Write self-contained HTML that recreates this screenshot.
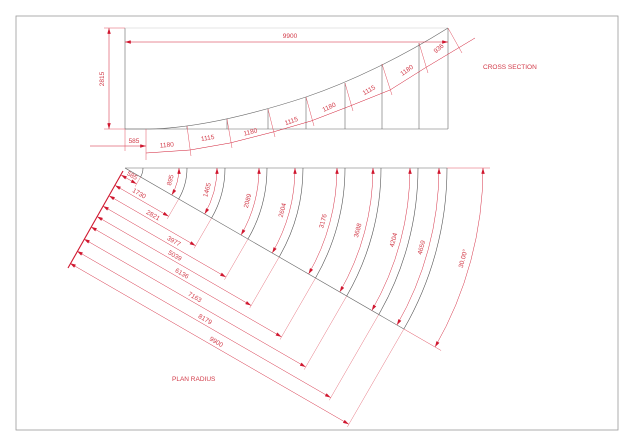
<!DOCTYPE html>
<html><head><meta charset="utf-8"><style>
html,body{margin:0;padding:0;background:#fff;}
svg{display:block;}
text{font-family:"Liberation Sans",sans-serif;font-size:6.5px;fill:#d23a48;}
</style></head><body>
<svg id="s" width="630" height="445" viewBox="0 0 630 445" xmlns="http://www.w3.org/2000/svg">
<defs>
<marker id="a" viewBox="0 0 10 6" refX="10" refY="3" markerWidth="7" markerHeight="3.5" orient="auto-start-reverse" markerUnits="userSpaceOnUse"><path d="M0,0 L10,3 L0,6z" fill="#d01830"/></marker>
</defs>
<rect x="16" y="16" width="602" height="414" fill="none" stroke="#999" stroke-width="0.8"/>
<!-- cross section frame -->
<g stroke="#666" stroke-width="0.6" fill="none">
<line x1="125" y1="28" x2="125" y2="129"/>
<line x1="125" y1="129" x2="448" y2="129"/>
<line x1="448" y1="28" x2="448" y2="129"/>
<line x1="125" y1="28" x2="448" y2="28" stroke="#ccc"/>
<path d="M125,129 L150,129 C200,128 260,112 306,97 C350,82 400,58 448,28"/>
<line x1="187" y1="126" x2="187" y2="129"/>
<line x1="227" y1="119" x2="227" y2="129"/>
<line x1="268" y1="109" x2="268" y2="129"/>
<line x1="306" y1="97" x2="306" y2="129"/>
<line x1="345" y1="83" x2="345" y2="129"/>
<line x1="382" y1="64" x2="382" y2="129"/>
<line x1="419" y1="43" x2="419" y2="129"/>
</g>
<g stroke="#e05060" stroke-width="0.5" fill="none">
<line x1="125" y1="42" x2="448" y2="42" marker-start="url(#a)" marker-end="url(#a)" stroke="#d01830"/>
<line x1="109" y1="28" x2="109" y2="129" marker-start="url(#a)" marker-end="url(#a)" stroke="#d01830"/>
<line x1="104" y1="28" x2="125" y2="28"/><line x1="104" y1="129" x2="125" y2="129"/>
<line x1="90" y1="146" x2="146" y2="146" marker-end="url(#a)" stroke="#d01830"/>
<line x1="125" y1="129" x2="125" y2="151"/>
<polyline points="146,153 190,150 230,143 273,132 311,121 350,106 390,90 425,68 475,38" stroke="#d01830"/>
<line x1="146" y1="129" x2="146" y2="160"/><line x1="187" y1="126" x2="191" y2="156"/>
<line x1="227" y1="119" x2="232" y2="148"/><line x1="268" y1="109" x2="275" y2="137"/>
<line x1="306" y1="97" x2="314" y2="126"/><line x1="345" y1="83" x2="353" y2="111"/>
<line x1="382" y1="64" x2="392" y2="95"/><line x1="419" y1="43" x2="428" y2="73"/>
<line x1="448" y1="28" x2="462" y2="53"/>
</g>
<text x="290" y="38" text-anchor="middle">9900</text>
<text transform="translate(104,79) rotate(-90)" text-anchor="middle">2815</text>
<text x="134" y="143" text-anchor="middle">585</text>
<text transform="translate(167,147) rotate(-5)" text-anchor="middle">1180</text>
<text transform="translate(208,140) rotate(-10)" text-anchor="middle">1115</text>
<text transform="translate(251,134) rotate(-15)" text-anchor="middle">1180</text>
<text transform="translate(292,123) rotate(-20)" text-anchor="middle">1115</text>
<text transform="translate(330,109) rotate(-25)" text-anchor="middle">1180</text>
<text transform="translate(370,92) rotate(-30)" text-anchor="middle">1115</text>
<text transform="translate(408,72) rotate(-35)" text-anchor="middle">1180</text>
<text transform="translate(440,50) rotate(-40)" text-anchor="middle">936</text>
<text x="483" y="69">CROSS SECTION</text>
<text x="172" y="381">PLAN RADIUS</text>
<g id="plan"></g>
</svg>
<script>
(function(){
var g=document.getElementById('plan'),NS='http://www.w3.org/2000/svg';
function el(t,at,txt){var e=document.createElementNS(NS,t);for(var k in at)e.setAttribute(k,at[k]);if(txt)e.textContent=txt;g.appendChild(e);return e;}
var cx=125,cy=168,ux=Math.cos(Math.PI/6),uy=Math.sin(Math.PI/6),nx=-0.5,ny=0.866;
var R=[18,62,100,142,178,220,256,293,322];
var rad=['585','1730','2821','3977','5039','6136','7163','8179','9900'];
var arcL=['','895','1465','2089','2604','3176','3688','4204','4659'];
var D=[8,20,32,44,56,68,82,96,110];
var T=[10,25,48,79,87,102,125,145,166];
el('line',{x1:cx,y1:cy,x2:cx+322*ux,y2:cy+322*uy,stroke:'#666','stroke-width':0.6});
el('line',{x1:cx,y1:cy,x2:447,y2:cy,stroke:'#666','stroke-width':0.6});
el('line',{x1:447,y1:cy,x2:490,y2:cy,stroke:'#e05060','stroke-width':0.5});
el('line',{x1:cx+322*ux,y1:cy+322*uy,x2:cx+365*ux,y2:cy+365*uy,stroke:'#e05060','stroke-width':0.5});
el('line',{x1:123,y1:171,x2:68,y2:268,stroke:'#d01830','stroke-width':1.1});
for(var i=0;i<R.length;i++){
 var r=R[i],ex=cx+r*ux,ey=cy+r*uy;
 el('path',{d:'M'+(cx+r)+','+cy+' A'+r+','+r+' 0 0 1 '+ex+','+ey,fill:'none',stroke:'#555','stroke-width':0.6});
 var d=D[i],sx=cx+d*nx,sy=cy+d*ny,fx=ex+d*nx,fy=ey+d*ny;
 el('line',{x1:ex,y1:ey,x2:fx+3*nx,y2:fy+3*ny,stroke:'#e05060','stroke-width':0.4});
 el('line',{x1:sx,y1:sy,x2:fx,y2:fy,stroke:'#d01830','stroke-width':0.45,'marker-start':'url(#a)','marker-end':'url(#a)'});
 var t=T[i],lx=sx+t*ux-3*nx,ly=sy+t*uy-3*ny;
 el('text',{transform:'translate('+lx+','+ly+') rotate(30)','text-anchor':'middle'},rad[i]);
 if(i>0){var q=r-8,ax=cx+q,bx=cx+q*ux,by=cy+q*uy;
  el('path',{d:'M'+ax+','+cy+' A'+q+','+q+' 0 0 1 '+bx+','+by,fill:'none',stroke:'#d01830','stroke-width':0.45,'marker-start':'url(#a)','marker-end':'url(#a)'});
  var m=Math.PI/12,qq=q-5;
  el('text',{transform:'translate('+(cx+qq*Math.cos(m))+','+(cy+qq*Math.sin(m))+') rotate(-75)','text-anchor':'middle'},arcL[i]);}
}
var q=358;
el('path',{d:'M'+(cx+q)+','+cy+' A'+q+','+q+' 0 0 1 '+(cx+q*ux)+','+(cy+q*uy),fill:'none',stroke:'#d01830','stroke-width':0.45,'marker-start':'url(#a)','marker-end':'url(#a)'});
var m=Math.PI/12;
el('text',{transform:'translate('+(cx+(q-6)*Math.cos(m))+','+(cy+(q-6)*Math.sin(m))+') rotate(-75)','text-anchor':'middle'},'30.00°');
})();
</script>
</body></html>
